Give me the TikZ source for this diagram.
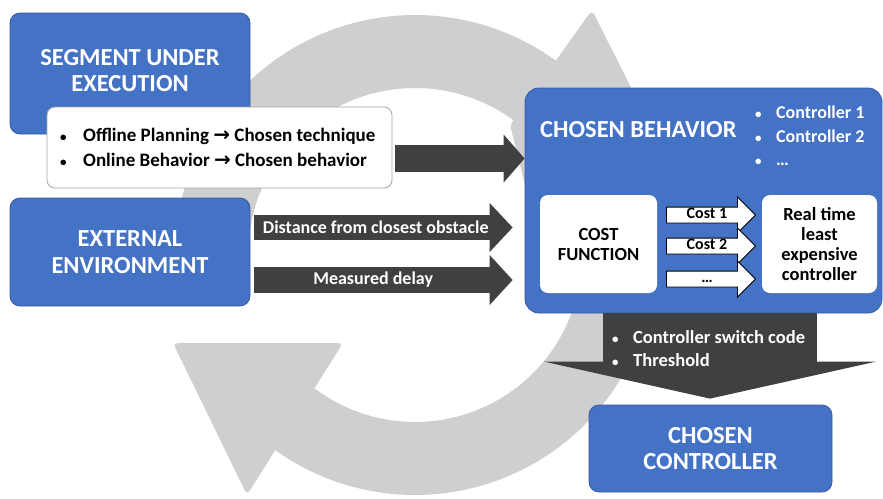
\documentclass[tikz,border=0pt]{standalone}
\usepackage{fontspec}
\setmainfont{Carlito}
\newfontfamily\symfont{DejaVu Sans}
\usetikzlibrary{arrows.meta,shapes.arrows,calc}
\definecolor{ofblue}{RGB}{68,114,196}
\definecolor{ofblueline}{RGB}{52,92,165}
\definecolor{ringgray}{RGB}{207,207,207}
\definecolor{darkg}{RGB}{64,64,64}
\newcommand{\bul}{{\fontsize{13}{13}\selectfont•}}
\begin{document}
\begin{tikzpicture}[x=1pt,y=-1pt,
  bluebox/.style={fill=ofblue, draw=ofblueline, line width=0.8pt, rounded corners=10pt, inner sep=0pt,
    text=white, font=\fontsize{24.5}{26.5}\selectfont\bfseries, align=center},
  titletext/.style={text=white, font=\fontsize{24.5}{25.5}\selectfont\bfseries, align=center, inner sep=0pt},
  whitebox/.style={fill=white, draw=gray!70, line width=0.8pt, rounded corners=8pt, inner sep=0pt},
  innerbox/.style={fill=white, rounded corners=8pt, inner sep=0pt, font=\fontsize{18.5}{20}\selectfont\bfseries, align=center},
  darkarrow/.style n args={3}{draw=darkg, line width=#1, -{Triangle[length=#2, width=#3, line width=0pt]}},
  darklabel/.style={text=white, font=\fontsize{18}{20}\selectfont\bfseries, inner sep=0pt},
  listtext/.style={font=\fontsize{19}{25}\selectfont\bfseries, align=left, inner sep=0pt},
  whitelist/.style={text=white, font=\fontsize{18}{23.5}\selectfont\bfseries, align=left, inner sep=0pt},
  costarrow/.style={single arrow, draw=black, line width=0.9pt, fill=white, minimum height=89pt, minimum width=35pt,
    single arrow head extend=10pt, inner xsep=2pt, inner ysep=0.5pt, text height=10.5pt, text depth=3.5pt,
    font=\fontsize{16}{16}\selectfont\bfseries, anchor=tail},
]
\fill[white] (0,0) rectangle (883,498);
\useasboundingbox (0,0) rectangle (883,498);

% grey circular arrows
\fill[ringgray] plot[domain=182:310, samples=90] ({415+240*cos(\x)},{255+240*sin(\x)})
  -- plot[domain=310:182, samples=90] ({415+167*cos(\x)},{255+167*sin(\x)}) -- cycle;
\fill[ringgray, rounded corners=5pt] (510,125) -- (592,10) -- (675,175) -- (530,205) -- cycle;
\fill[ringgray] plot[domain=10:130, samples=90] ({415+240*cos(\x)},{255+240*sin(\x)})
  -- plot[domain=130:10, samples=90] ({415+167*cos(\x)},{255+167*sin(\x)}) -- cycle;
\fill[ringgray, rounded corners=5pt] (343,343) -- (173,343) -- (247,495) -- cycle;

% left blocks
\node[bluebox, minimum width=240pt, minimum height=121pt] (seg) at (130,73.5) {};
\node[titletext] (segt) at (130,70.5) {SEGMENT UNDER\\EXECUTION};
\node[whitebox, minimum width=345pt, minimum height=81pt] (plan) at (219.5,147.5) {};
\node[listtext, anchor=west] (planlist) at (60,147.5)
  {\makebox[23pt][l]{\bul}Offline Planning {\symfont\fontsize{20}{20}\selectfont →} Chosen technique\\
   \makebox[23pt][l]{\bul}Online Behavior {\symfont\fontsize{20}{20}\selectfont →} Chosen behavior};
\node[bluebox, minimum width=240pt, minimum height=108pt] (ext) at (130,252) {EXTERNAL\\ENVIRONMENT};

% chosen behavior block
\node[bluebox, minimum width=357pt, minimum height=225pt, rounded corners=14pt] (beh) at (703.5,200.5) {};
\node[titletext, anchor=west] (beht) at (540,130) {CHOSEN BEHAVIOR};
\node[whitelist, anchor=west] (behl) at (755,136)
  {\makebox[21pt][l]{\bul}Controller 1\\ \makebox[21pt][l]{\bul}Controller 2\\ \makebox[21pt][l]{\bul}…};
\node[innerbox, minimum width=117pt, minimum height=98pt] (cost) at (598.5,244) {COST\\FUNCTION};
\node[innerbox, minimum width=115pt, minimum height=98pt] (real) at (819.5,244) {Real time\\least\\expensive\\controller};
\node[costarrow] (c1) at (666,215) {Cost 1};
\node[costarrow] (c2) at (666,246) {Cost 2};
\node[costarrow] (c3) at (666,279) {…};

% chosen controller
\node[bluebox, minimum width=243pt, minimum height=87pt] (ctrl) at (710.5,448.5) {CHOSEN\\CONTROLLER};

% dark block arrows
\draw[darkarrow={27pt}{21pt}{48pt}] ($(plan.east)+(3,11)$) -- ($(beh.west)+(0,-42)$);
\draw[darkarrow={25pt}{23pt}{49pt}] ($(ext.east)+(4,-24.5)$) --
  node[darklabel, pos=0.47] {Distance from closest obstacle} ($(beh.west)+(-12,27)$);
\draw[darkarrow={26pt}{23pt}{50pt}] ($(ext.east)+(4,28)$) --
  node[darklabel, pos=0.46] {Measured delay} ($(beh.west)+(-12,79.5)$);
\draw[darkarrow={214pt}{37pt}{332pt}] ($(beh.south)+(6.5,0)$) -- ($(ctrl.north)+(-0.5,-6)$);
\node[whitelist, font=\fontsize{18.5}{23}\selectfont\bfseries, anchor=west] (swl) at (612,348.5)
  {\makebox[21pt][l]{\bul}Controller switch code\\ \makebox[21pt][l]{\bul}Threshold};
\end{tikzpicture}
\end{document}
